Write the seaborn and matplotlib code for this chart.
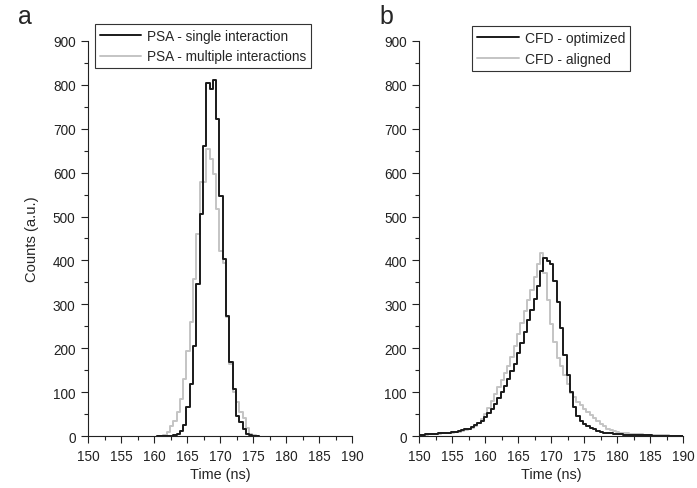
import pandas as pd
import matplotlib
matplotlib.use("Agg")
import matplotlib.pyplot as plt
from matplotlib.ticker import MultipleLocator
import seaborn as sns

# ===== data (counts per 0.5 ns bin) =====
BIN_W = 0.5

# panel a: bins start at 160.4 ns
edges_a_start = 160.4
single_a = [0, 0, 0, 0, 0, 2, 5, 12, 25, 66, 118, 205, 346, 506, 660, 805,
            790, 812, 722, 547, 403, 274, 168, 107, 45, 32, 16, 5, 2, 0, 0]
multiple_a = [0, 0, 2, 9, 23, 35, 55, 84, 130, 194, 260, 358, 460, 578, 578, 654,
              631, 597, 517, 422, 395, 270, 165, 100, 77, 55, 40, 18, 5, 2, 0]

# panel b: bins start at 149.8 ns
edges_b_start = 149.8
optimized_b = [3, 3, 4, 4, 5, 5, 6, 7, 7, 8,
               9, 10, 11, 13, 15, 17, 20, 24, 29, 35,
               43, 52, 62, 74, 87, 100, 115, 130, 147, 165,
               190, 212, 238, 265, 287, 313, 341, 375, 405, 398,
               391, 352, 306, 245, 184, 138, 100, 66, 45, 34,
               27, 22, 18, 15, 12, 10, 8, 7, 6, 5,
               4, 4, 3, 3, 3, 2, 2, 2, 2, 2,
               2, 1, 1, 1, 1, 1, 1, 1, 1, 1, 1]
aligned_b = [3, 3, 3, 4, 4, 5, 5, 6, 6, 7,
             8, 9, 10, 12, 14, 16, 19, 23, 29, 38,
             50, 64, 80, 96, 112, 127, 143, 160, 180, 205,
             232, 258, 285, 310, 332, 362, 392, 416, 372, 310,
             255, 215, 178, 160, 140, 118, 98, 88, 78, 70,
             62, 54, 47, 41, 35, 28, 22, 17, 13, 11,
             9, 8, 7, 6, 5, 5, 4, 4, 3, 3,
             3, 2, 2, 2, 2, 2, 1, 1, 1, 1, 1]

labels_a = ["PSA - single interaction", "PSA - multiple interactions"]
labels_b = ["CFD - optimized", "CFD - aligned"]

DARK = "#1a1a1a"
LIGHT = "#c4c4c4"

# ===== style =====
sns.set_style("ticks")
plt.rcParams["font.family"] = ["Liberation Sans", "DejaVu Sans"]
plt.rcParams["axes.linewidth"] = 0.8

fig = plt.figure(figsize=(6.97, 4.89), dpi=100)
ax_a = fig.add_axes([0.1263, 0.1063, 0.379, 0.808])
ax_b = fig.add_axes([0.6016, 0.1063, 0.379, 0.808])


def draw_hist(ax, start, counts, color, label):
    edges = [round(start + BIN_W * i, 3) for i in range(len(counts) + 1)]
    df = pd.DataFrame({"time": [e + BIN_W / 2 for e in edges[:-1]],
                       "count": counts})
    sns.histplot(data=df, x="time", weights="count", bins=edges,
                 element="step", fill=False, color=color, linewidth=1.4,
                 label=label, ax=ax)


# light series first so the dark one sits on top
draw_hist(ax_a, edges_a_start, multiple_a, LIGHT, labels_a[1])
draw_hist(ax_a, edges_a_start, single_a, DARK, labels_a[0])
draw_hist(ax_b, edges_b_start, aligned_b, LIGHT, labels_b[1])
draw_hist(ax_b, edges_b_start, optimized_b, DARK, labels_b[0])

for ax in (ax_a, ax_b):
    ax.set_xlim(150, 190)
    ax.set_ylim(0, 900)
    ax.xaxis.set_major_locator(MultipleLocator(5))
    ax.xaxis.set_minor_locator(MultipleLocator(2.5))
    ax.yaxis.set_major_locator(MultipleLocator(100))
    ax.yaxis.set_minor_locator(MultipleLocator(50))
    ax.tick_params(which="major", direction="out", length=5, width=0.8,
                   labelsize=9.8, colors="#222222", pad=4)
    ax.tick_params(which="minor", direction="out", length=3, width=0.8,
                   colors="#222222")
    ax.set_xlabel("Time (ns)", fontsize=10.4, labelpad=3)
    ax.set_ylabel("")
    sns.despine(ax=ax)
    ax.spines["left"].set_color("#222222")
    ax.spines["bottom"].set_color("#222222")

ax_a.set_ylabel("Counts (a.u.)", fontsize=10.6, labelpad=10)

# legends: dark entry first
for ax, labels, anchor, fs in ((ax_a, labels_a, (0.027, 1.043), 9.8),
                               (ax_b, labels_b, (0.20, 1.038), 10.0)):
    handles, labs = ax.get_legend_handles_labels()
    order = [labs.index(labels[0]), labs.index(labels[1])]
    leg = ax.legend([handles[i] for i in order], [labs[i] for i in order],
                    loc="upper left", bbox_to_anchor=anchor, fontsize=fs,
                    frameon=True, fancybox=False, framealpha=1,
                    edgecolor="#333333", handlelength=3.0, handletextpad=0.45,
                    labelspacing=0.5, borderpad=0.35, borderaxespad=0)
    leg.get_frame().set_linewidth(0.8)

fig.text(0.036, 0.965, "a", fontsize=18, ha="center", va="center")
fig.text(0.554, 0.965, "b", fontsize=18, ha="center", va="center")

fig.savefig("out.png", dpi=100)
